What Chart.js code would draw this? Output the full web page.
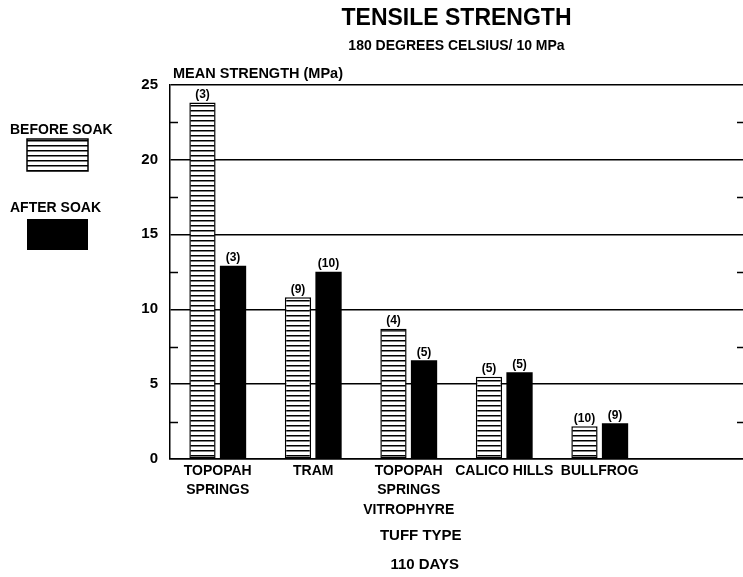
<!DOCTYPE html>
<html>
<head>
<meta charset="utf-8">
<script src="https://cdn.jsdelivr.net/npm/chart.js@4/dist/chart.umd.min.js"></script>
<style>
  body { margin: 0; background: #fff; }
  #wrap { width: 743px; height: 577px; position: relative; }
</style>
</head>
<body>
<div id="wrap"><canvas id="grafico"></canvas></div>
<script>
// dados
var categorias = [['TOPOPAH', 'SPRINGS'], 'TRAM', ['TOPOPAH', 'SPRINGS', 'VITROPHYRE'], 'CALICO HILLS', 'BULLFROG'];
var antesSoak = [23.8, 10.8, 8.7, 5.5, 2.2];
var depoisSoak = [12.9, 12.5, 6.6, 5.8, 2.4];
var amostrasAntes = [3, 9, 4, 5, 10];
var amostrasDepois = [3, 10, 5, 5, 9];
var ticksY = [0, 5, 10, 15, 20, 25];
var ticksMenores = [2.5, 7.5, 12.5, 17.5, 22.5];

var FONTE = '"Liberation Sans", Arial, sans-serif';

var ctx = document.getElementById('grafico').getContext('2d');

// padrao listrado horizontal (before soak)
function padraoListrado() {
    var c = document.createElement('canvas');
    c.width = 8;
    c.height = 5;
    var g = c.getContext('2d');
    g.fillStyle = '#fff';
    g.fillRect(0, 0, 8, 5);
    g.fillStyle = '#000';
    g.fillRect(0, 0, 8, 1.5);
    return ctx.createPattern(c, 'repeat');
}

// rotulos (n) em cima das barras
var rotulosBarras = {
    id: 'rotulosBarras',
    afterDatasetsDraw: function (chart) {
        var c = chart.ctx;
        var contagens = [amostrasAntes, amostrasDepois];
        c.save();
        c.font = 'bold 12px ' + FONTE;
        c.fillStyle = '#000';
        c.textAlign = 'center';
        c.textBaseline = 'bottom';
        chart.data.datasets.forEach(function (ds, i) {
            chart.getDatasetMeta(i).data.forEach(function (bar, j) {
                c.fillText('(' + contagens[i][j] + ')', bar.x, bar.y - 2);
            });
        });
        c.restore();
    }
};

// marcas menores, titulo do eixo y, legenda e titulo do eixo x
var extras = {
    id: 'extras',
    afterDraw: function (chart) {
        var c = chart.ctx;
        var area = chart.chartArea;
        var y = chart.scales.y;
        var x = chart.scales.x;
        c.save();
        c.strokeStyle = '#000';
        c.lineWidth = 1.5;
        ticksMenores.forEach(function (v) {
            var py = Math.round(y.getPixelForValue(v)) + 0.5;
            c.beginPath();
            c.moveTo(area.left, py);
            c.lineTo(area.left + 8, py);
            c.moveTo(area.right - 6, py);
            c.lineTo(area.right, py);
            c.stroke();
        });

        c.fillStyle = '#000';
        c.textBaseline = 'alphabetic';
        c.textAlign = 'left';
        c.font = 'bold 14.5px ' + FONTE;
        c.fillText('MEAN STRENGTH (MPa)', area.left + 3, area.top - 6);

        // legenda
        var ds = chart.data.datasets;
        c.font = 'bold 14px ' + FONTE;
        c.fillText(ds[0].label, 10, 134);
        c.fillStyle = ds[0].backgroundColor;
        c.fillRect(27, 139, 61, 32);
        c.strokeRect(27, 139, 61, 32);
        c.fillStyle = '#000';
        c.fillText(ds[1].label, 10, 212);
        c.fillStyle = ds[1].backgroundColor;
        c.fillRect(27, 219, 61, 31);

        // titulo do eixo x
        c.fillStyle = '#000';
        c.textAlign = 'center';
        c.font = 'bold 15px ' + FONTE;
        var cx = x.getPixelForValue(2) + 12;
        c.fillText('TUFF TYPE', cx, 540);
        c.fillText('110 DAYS', cx + 4, 569);
        c.restore();
    }
};

var grafico = new Chart(ctx, {
    type: 'bar',
    data: {
        labels: categorias.concat(['']),
        datasets: [{
            label: 'BEFORE SOAK',
            data: antesSoak,
            backgroundColor: padraoListrado(),
            borderColor: '#000',
            borderWidth: 1.5,
            borderSkipped: false
        }, {
            label: 'AFTER SOAK',
            data: depoisSoak,
            backgroundColor: '#000',
            borderWidth: 0
        }]
    },
    options: {
        responsive: true,
        maintainAspectRatio: false,
        animation: false,
        layout: { padding: { left: 130, right: 0, top: 0, bottom: 55 } },
        categoryPercentage: 0.64,
        barPercentage: 0.86,
        plugins: {
            legend: { display: false },
            tooltip: { enabled: false },
            title: {
                display: true,
                fullSize: false,
                text: 'TENSILE STRENGTH',
                color: '#000',
                font: { family: FONTE, size: 23, weight: 'bold' },
                padding: { top: 5, bottom: 5 }
            },
            subtitle: {
                display: true,
                fullSize: false,
                text: '180 DEGREES CELSIUS/ 10 MPa',
                color: '#000',
                font: { family: FONTE, size: 14, weight: 'bold' },
                padding: { top: 0, bottom: 30 }
            }
        },
        scales: {
            x: {
                grid: { display: false, drawTicks: false },
                border: { display: true, color: '#000', width: 1.5 },
                ticks: {
                    color: '#000',
                    autoSkip: false,
                    maxRotation: 0,
                    padding: 2,
                    font: { family: FONTE, size: 14, weight: 'bold', lineHeight: 1.4 }
                }
            },
            y: {
                min: 0,
                max: 25,
                afterBuildTicks: function (scale) {
                    scale.ticks = ticksY.map(function (v) { return { value: v }; });
                },
                afterFit: function (scale) {
                    scale.width = 40;
                },
                grid: { color: '#000', lineWidth: 1.5, drawTicks: false },
                border: { display: true, color: '#000', width: 1.5 },
                ticks: {
                    color: '#000',
                    padding: 12,
                    font: { family: FONTE, size: 15, weight: 'bold' }
                }
            }
        }
    },
    plugins: [rotulosBarras, extras]
});
</script>
</body>
</html>
